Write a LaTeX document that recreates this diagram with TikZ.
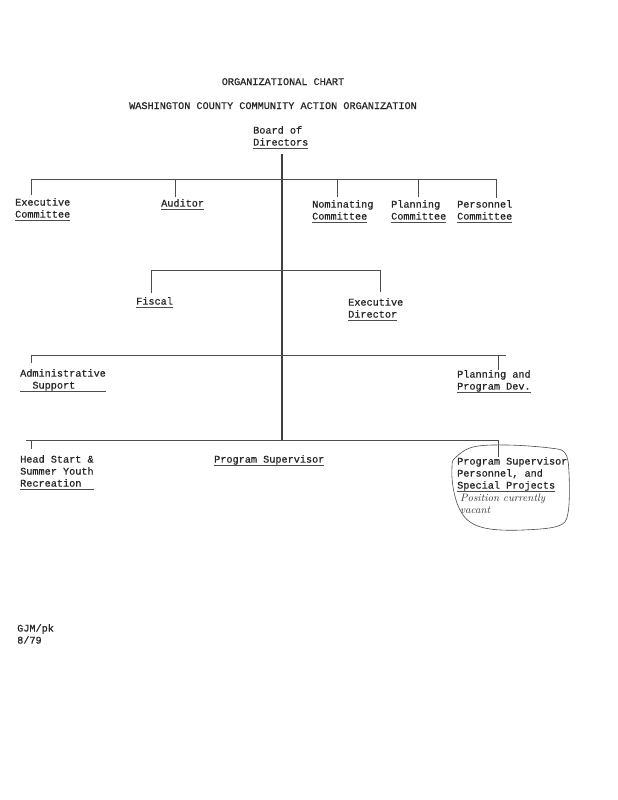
\documentclass[tikz,border=0pt]{standalone}
\usepackage{fontspec}
\setmonofont[FakeBold=0.6]{Liberation Mono}
\usepackage{tikz}

% typed underline
\newlength\ullen
\newcommand\typeul[1]{\settowidth\ullen{#1}\rlap{\color{black!70}\rule[-3pt]{\ullen}{0.7pt}}#1}

\tikzset{
  typed/.style={font=\ttfamily\fontsize{10.2}{12}\selectfont, text=black!85, anchor=north west, inner sep=0pt, align=left},
  pencil/.style={font=\itshape\fontsize{10.8}{12}\selectfont, text=black!80, anchor=north west, inner sep=0pt, align=left},
  link/.style={draw=black!70, line width=0.75pt},
  spine/.style={draw=black!75, line width=1.1pt}
}

\begin{document}
\begin{tikzpicture}[x=1pt,y=-1pt]
    \useasboundingbox[fill=white] (0,0) rectangle (618,800);

    \node[typed,anchor=north] (title) at (283,78) {ORGANIZATIONAL CHART};
    \node[typed,anchor=north] (subtitle) at (273,102) {WASHINGTON COUNTY COMMUNITY ACTION ORGANIZATION};

    \node[typed] (board) at (253,126) {Board of\\\typeul{Directors}};

    % first row
    \node[typed] (execcom) at (15,198) {Executive\\\typeul{Committee}};
    \node[typed] (auditor) at (161,199) {\typeul{Auditor}};
    \node[typed] (nomcom) at (312,200) {Nominating\\\typeul{Committee}};
    \node[typed] (plancom) at (391,200) {Planning\\\typeul{Committee}};
    \node[typed] (perscom) at (457,200) {Personnel\\\typeul{Committee}};

    % second row
    \node[typed] (fiscal) at (136,297) {\typeul{Fiscal}};
    \node[typed] (execdir) at (348,298) {Executive\\\typeul{Director}};

    % third row
    \node[typed] (admin) at (20,369) {Administrative\\\typeul{\hphantom{xx}Support\hphantom{xxxxx}}};
    \node[typed] (plandev) at (457,370) {Planning and\\\typeul{Program Dev.}};

    % fourth row
    \node[typed] (headstart) at (20,455) {Head Start \&\\Summer Youth\\\typeul{Recreation\hphantom{xx}}};
    \node[typed] (progsup) at (214,455) {\typeul{Program Supervisor}};
    \node[typed] (specproj) at (457,457) {Program Supervisor\\Personnel, and\\\typeul{Special Projects}};
    \node[pencil] (vacant) at (460,494) {Position currently\\vacant};

    \node[typed] (initials) at (17,624) {GJM/pk\\8/79};

    % bars
    \coordinate (spinebot) at (282,440);
    \coordinate (rowAw) at (31,179);  \coordinate (rowAe) at (496,179);
    \coordinate (rowBw) at (151,270); \coordinate (rowBe) at (380,270);
    \coordinate (rowCw) at (31,355);  \coordinate (rowCe) at (506,355);
    \coordinate (rowDw) at (26,440);  \coordinate (rowDe) at (498,440);

    \draw[spine] (board.south -| spinebot) ++(0,5) -- (spinebot); % main line
    \draw[link] (rowAw) -- (rowAe);
    \draw[link] (rowBw) -- (rowBe);
    \draw[link] (rowCw) -- (rowCe);
    \draw[link] (rowDw) -- (rowDe);

    % drops to the boxes
    \draw[link,shorten >=3pt] (rowAw) -- (rowAw |- execcom.north);
    \draw[link,shorten >=2pt] (175,179) -- (175,179 |- auditor.north);
    \draw[link,shorten >=3pt] (337,179) -- (337,179 |- nomcom.north);
    \draw[link,shorten >=3pt] (418,179) -- (418,179 |- plancom.north);
    \draw[link,shorten >=2pt] (rowAe) -- (rowAe |- perscom.north);
    \draw[link,shorten >=4pt] (rowBw) -- (rowBw |- fiscal.north);
    \draw[link,shorten >=6pt] (rowBe) -- (rowBe |- execdir.north);
    \draw[link,shorten >=6pt] (rowCw) -- (rowCw |- admin.north);
    \draw[link] (498,355) -- (498,355 |- plandev.north);
    \draw[link,shorten >=6pt] (31,440) -- (31,440 |- headstart.north);
    \draw[link] (rowDe) -- (rowDe |- specproj.north);

    % pencil loop round the vacant post
    \draw[black!70, line width=0.6pt] plot[smooth cycle, tension=0.6] coordinates {(455,458) (473,447) (507,445) (550,448) (565,453) (569,473) (568,513) (558,526) (523,530) (490,529) (470,522) (459,508) (453,487) (452,467)};
\end{tikzpicture}
\end{document}
